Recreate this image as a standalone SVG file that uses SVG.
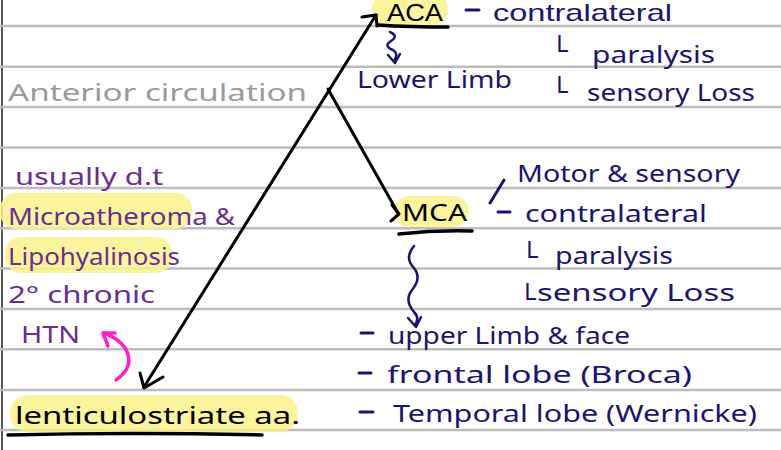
<svg xmlns="http://www.w3.org/2000/svg" width="781" height="450" viewBox="0 0 781 450">
<defs>
<style>
.rule{stroke:#bdbdbd;stroke-width:2.5;fill:none}
.hl{fill:#f9f38c;opacity:0.85}
.t{font-family:"Noto Sans","Liberation Sans",sans-serif;font-size:24px}
.top{font-family:"Liberation Sans",Arial,sans-serif}
.navy{fill:#1b1470}
.purple{fill:#6a2d94}
.grey{fill:#9b9b9b}
.blk{fill:#000}
.ul{stroke:#000;stroke-width:3.5;fill:none;stroke-linecap:round}
.arrow{stroke:#000;stroke-width:3;fill:none;stroke-linecap:round;stroke-linejoin:round}
.sq{stroke:#1b1470;stroke-width:2.5;fill:none;stroke-linecap:round;stroke-linejoin:round}
.nv{stroke:#1b1470;stroke-width:3;fill:none;stroke-linecap:round}
.mg{stroke:#ff1fcf;stroke-width:3.5;fill:none;stroke-linecap:round;stroke-linejoin:round}
</style>
</defs>
<rect width="781" height="450" fill="#fff"/>
<g id="paper">
<line x1="2" y1="0" x2="2" y2="450" stroke="#555" stroke-width="2"/>
<path class="rule" d="M0,26H781M0,66.7H781M0,107H781M0,147.5H781M0,188H781M0,228.3H781M0,268.5H781M0,309H781M0,349.3H781M0,390H781M0,430H781"/>
</g>
<g id="title">
<text class="t grey" x="8" y="101" font-size="30" textLength="299" lengthAdjust="spacingAndGlyphs">Anterior circulation</text>
</g>
<g id="aca">
<rect class="hl" x="372" y="-6" width="76" height="31" rx="15"/>
<text class="t top blk" x="387" y="21" font-size="21" textLength="56" lengthAdjust="spacingAndGlyphs">ACA</text>
<path class="ul" d="M378,25 Q410,27 448,27"/>
</g>
<g id="aca-notes">
<line class="nv" x1="466" y1="10" x2="479" y2="10"/>
<text class="t top navy" x="493" y="21" font-size="19" textLength="179" lengthAdjust="spacingAndGlyphs">contralateral</text>
<text class="t navy" x="556" y="52" font-size="18">L</text>
<text class="t navy" x="592" y="63" textLength="123" lengthAdjust="spacingAndGlyphs">paralysis</text>
<text class="t navy" x="556" y="93" font-size="18">L</text>
<text class="t navy" x="587" y="101" textLength="168" lengthAdjust="spacingAndGlyphs">sensory Loss</text>
<text class="t navy" x="357" y="88" textLength="155" lengthAdjust="spacingAndGlyphs">Lower Limb</text>
</g>
<g id="mca">
<rect class="hl" x="394" y="196" width="75" height="31" rx="15"/>
<text class="t blk" x="402" y="221" font-size="26" textLength="65" lengthAdjust="spacingAndGlyphs">MCA</text>
<path class="ul" d="M399,234 Q435,230 472,231"/>
</g>
<g id="mca-notes">
<line class="nv" x1="490" y1="203" x2="504" y2="180"/>
<text class="t navy" x="517" y="182" textLength="223" lengthAdjust="spacingAndGlyphs">Motor &amp; sensory</text>
<line class="nv" x1="498" y1="212" x2="510" y2="212"/>
<text class="t navy" x="525" y="222" textLength="182" lengthAdjust="spacingAndGlyphs">contralateral</text>
<text class="t navy" x="526" y="258" font-size="18">L</text>
<text class="t navy" x="555" y="264" textLength="118" lengthAdjust="spacingAndGlyphs">paralysis</text>
<text class="t navy" x="524" y="300" font-size="18">L</text>
<text class="t navy" x="537" y="301" textLength="198" lengthAdjust="spacingAndGlyphs">sensory Loss</text>
<line class="nv" x1="361" y1="333" x2="373" y2="333"/>
<text class="t navy" x="388" y="344" textLength="242" lengthAdjust="spacingAndGlyphs">upper Limb &amp; face</text>
<line class="nv" x1="359" y1="373" x2="371" y2="373"/>
<text class="t navy" x="387" y="383" textLength="305" lengthAdjust="spacingAndGlyphs">frontal lobe (Broca)</text>
<line class="nv" x1="360" y1="412" x2="373" y2="412"/>
<text class="t navy" x="393" y="422" textLength="364" lengthAdjust="spacingAndGlyphs">Temporal lobe (Wernicke)</text>
</g>
<g id="cause-notes">
<rect class="hl" x="0" y="193" width="192" height="36" rx="16"/>
<rect class="hl" x="5" y="237" width="167" height="36" rx="16"/>
<text class="t purple" x="15" y="185" textLength="148" lengthAdjust="spacingAndGlyphs">usually d.t</text>
<text class="t purple" x="8" y="225" textLength="227" lengthAdjust="spacingAndGlyphs">Microatheroma &amp;</text>
<text class="t purple" x="8" y="265" textLength="172" lengthAdjust="spacingAndGlyphs">Lipohyalinosis</text>
<text class="t purple" x="8" y="303" textLength="147" lengthAdjust="spacingAndGlyphs">2° chronic</text>
<text class="t purple" x="21" y="343" textLength="59" lengthAdjust="spacingAndGlyphs">HTN</text>
</g>
<g id="lenticulostriate">
<rect class="hl" x="10" y="395" width="288" height="37" rx="18"/>
<text class="t blk" x="15" y="424" font-size="26" textLength="285" lengthAdjust="spacingAndGlyphs">lenticulostriate aa.</text>
<path class="ul" d="M8,435 Q130,432 262,435"/>
</g>
<g id="connectors">
<line class="arrow" x1="376" y1="15" x2="144" y2="387"/>
<path class="arrow" d="M362,17 L376,15 L377,26"/>
<path class="arrow" d="M140,373 L144,388 L163,377"/>
<line class="arrow" x1="328" y1="89" x2="398" y2="213"/>
<path class="arrow" d="M392,205 L399,214 L391,221"/>
<path class="sq" d="M390,32 q9,4 1,9 q-8,5 2,9 q6,4 1,11"/>
<path class="sq" d="M388,55 L395,63 L400,54"/>
<path class="sq" d="M414,246 q-10,12 0,22 q8,10 -2,22 q-8,10 2,22 q6,6 1,13"/>
<path class="sq" d="M408,318 L416,327 L421,317"/>
<path class="mg" d="M116,380 Q136,366 125,348 Q118,338 104,333"/>
<path class="mg" d="M115,333 L103,333 L108,346"/>
</g>
</svg>
